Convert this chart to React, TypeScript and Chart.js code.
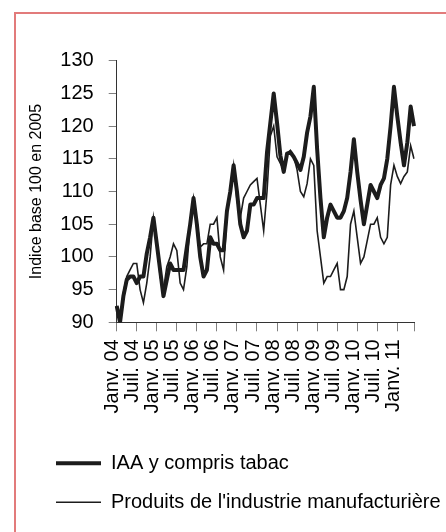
import { useEffect, useRef } from 'react';
import { Chart, registerables } from 'chart.js';

Chart.register(...registerables);

const FONT = "'Liberation Sans', Arial, sans-serif";

// Monthly categories, January 2004 to June 2011
const START_YEAR = 2004;
const MONTH_COUNT = 90;
const categories: string[] = [];
for (let i = 0; i < MONTH_COUNT; i++) {
  const y = START_YEAR + Math.floor(i / 12);
  const m = (i % 12) + 1;
  categories.push(`${y}-${String(m).padStart(2, '0')}`);
}

const tickLabels = [
  'Janv. 04', 'Juil. 04', 'Janv. 05', 'Juil. 05', 'Janv. 06', 'Juil. 06',
  'Janv. 07', 'Juil. 07', 'Janv. 08', 'Juil. 08', 'Janv. 09', 'Juil. 09',
  'Janv. 10', 'Juil. 10', 'Janv. 11',
];

const iaa = [
  92.5, 90, 94, 96.5, 97, 97, 96, 97, 97, 100.5, 103, 106,
  102, 98, 94, 96.5, 99, 98, 98, 98, 98, 101.5, 105, 109,
  105, 100, 97, 98, 103, 102, 102, 101, 101, 107, 110, 114,
  110, 105, 103, 104, 108, 108, 109, 109, 109, 116, 120.5, 125,
  120.5, 115.5, 113, 115.8, 116, 115.3, 114.3, 113.3, 115.3, 119, 121.5, 126,
  116.5, 109, 103, 106, 108, 107, 106, 106, 107, 109, 113, 118,
  113, 108.7, 105, 108, 111, 110, 109, 111, 112, 115, 120, 126,
  121.5, 117.5, 114, 117.5, 123, 120,
];

const manuf = [
  92.5, 90, 94.5, 97, 98, 99, 99, 95, 93, 96, 100, 106,
  102.5, 97, 95, 98.5, 100, 102, 101, 96, 95, 98.5, 105, 109,
  105.5, 101.5, 102, 102, 105, 105, 106, 100, 98, 106.5, 110, 114,
  108.7, 106, 109, 110, 111, 111.5, 112, 108, 104, 110, 118.5, 120,
  115.3, 114.3, 113.3, 115.8, 116.3, 115.3, 113.3, 110, 109.2, 111.2, 115, 114,
  104, 100, 96, 97, 97, 98, 99, 95, 95, 97, 105, 107,
  103, 99, 100, 102.5, 105, 105, 106, 103, 102, 103, 111, 114,
  112.3, 111.2, 112.3, 113, 117, 115,
];

const seriesNames = ['IAA y compris tabac', "Produits de l'industrie manufacturière"];
const Y_MIN = 90;
const Y_MAX = 130;
const Y_STEP = 5;

export default function App() {
  const ref = useRef<HTMLCanvasElement | null>(null);

  useEffect(() => {
    if (!ref.current) return;
    const chart = new Chart(ref.current, {
      type: 'line',
      data: {
        labels: categories,
        datasets: [
          {
            label: seriesNames[0],
            data: iaa,
            borderColor: '#1c1c1c',
            backgroundColor: '#1c1c1c',
            borderWidth: 4,
            pointRadius: 0,
            tension: 0,
            fill: false,
            borderJoinStyle: 'round',
            yAxisID: 'y',
          },
          {
            label: seriesNames[1],
            data: manuf,
            borderColor: '#1c1c1c',
            backgroundColor: '#1c1c1c',
            borderWidth: 1.6,
            pointRadius: 0,
            tension: 0,
            fill: false,
            yAxisID: 'y',
          },
        ],
      },
      options: {
        responsive: false,
        animation: false,
        layout: { padding: { left: 37, top: 60.7, right: 0, bottom: 9.7 } },
        plugins: {
          tooltip: { enabled: false },
          legend: {
            position: 'bottom',
            align: 'start',
            labels: {
              usePointStyle: true,
              pointStyle: 'line',
              pointStyleWidth: 45,
              padding: 19,
              color: '#000',
              font: { family: FONT, size: 20 },
            },
          },
        },
        scales: {
          x: {
            type: 'category',
            ticks: {
              autoSkip: false,
              minRotation: 90,
              maxRotation: 90,
              padding: 8,
              labelOffset: -4,
              color: '#000',
              font: { family: FONT, size: 20 },
              callback: (_v: any, i: number) => (i % 6 === 0 ? tickLabels[i / 6] : ''),
            },
            grid: {
              drawOnChartArea: false,
              tickLength: 9,
              tickColor: (ctx: any) =>
                ctx.index % 6 === 0 || ctx.index === MONTH_COUNT - 1 ? '#808080' : 'rgba(0,0,0,0)',
            },
            border: { color: '#333', width: 1 },
            afterFit: (s: any) => {
              s.height = 112;
            },
          },
          y: {
            min: Y_MIN,
            max: Y_MAX,
            ticks: {
              stepSize: Y_STEP,
              padding: 15,
              color: '#000',
              font: { family: FONT, size: 20 },
            },
            grid: { drawOnChartArea: false, tickLength: 8, tickColor: '#808080' },
            border: { color: '#333', width: 1 },
            title: {
              display: true,
              text: 'Indice base 100 en 2005',
              color: '#000',
              font: { family: FONT, size: 16 },
              padding: { top: -9.6, bottom: 0 },
            },
            afterFit: (s: any) => {
              s.width = 79.7;
            },
          },
          spacer: {
            type: 'linear',
            position: 'right',
            display: true,
            min: Y_MIN,
            max: Y_MAX,
            ticks: { display: false },
            grid: { display: false },
            border: { display: false },
            afterFit: (s: any) => {
              s.width = 22.7;
            },
          },
        },
      },
    } as any);
    return () => chart.destroy();
  }, []);

  return (
    <div
      style={{
        position: 'fixed',
        left: 0,
        top: 0,
        width: 446,
        height: 532,
        overflow: 'hidden',
        background: '#fff',
      }}
    >
      <div
        style={{
          position: 'absolute',
          left: 14,
          top: 12,
          width: 600,
          height: 700,
          borderLeft: '2px solid #e27b7b',
          borderTop: '2px solid #e27b7b',
        }}
      />
      <canvas
        ref={ref}
        width={446}
        height={532}
        style={{ position: 'absolute', left: 0, top: 0, width: 446, height: 532 }}
      />
    </div>
  );
}
